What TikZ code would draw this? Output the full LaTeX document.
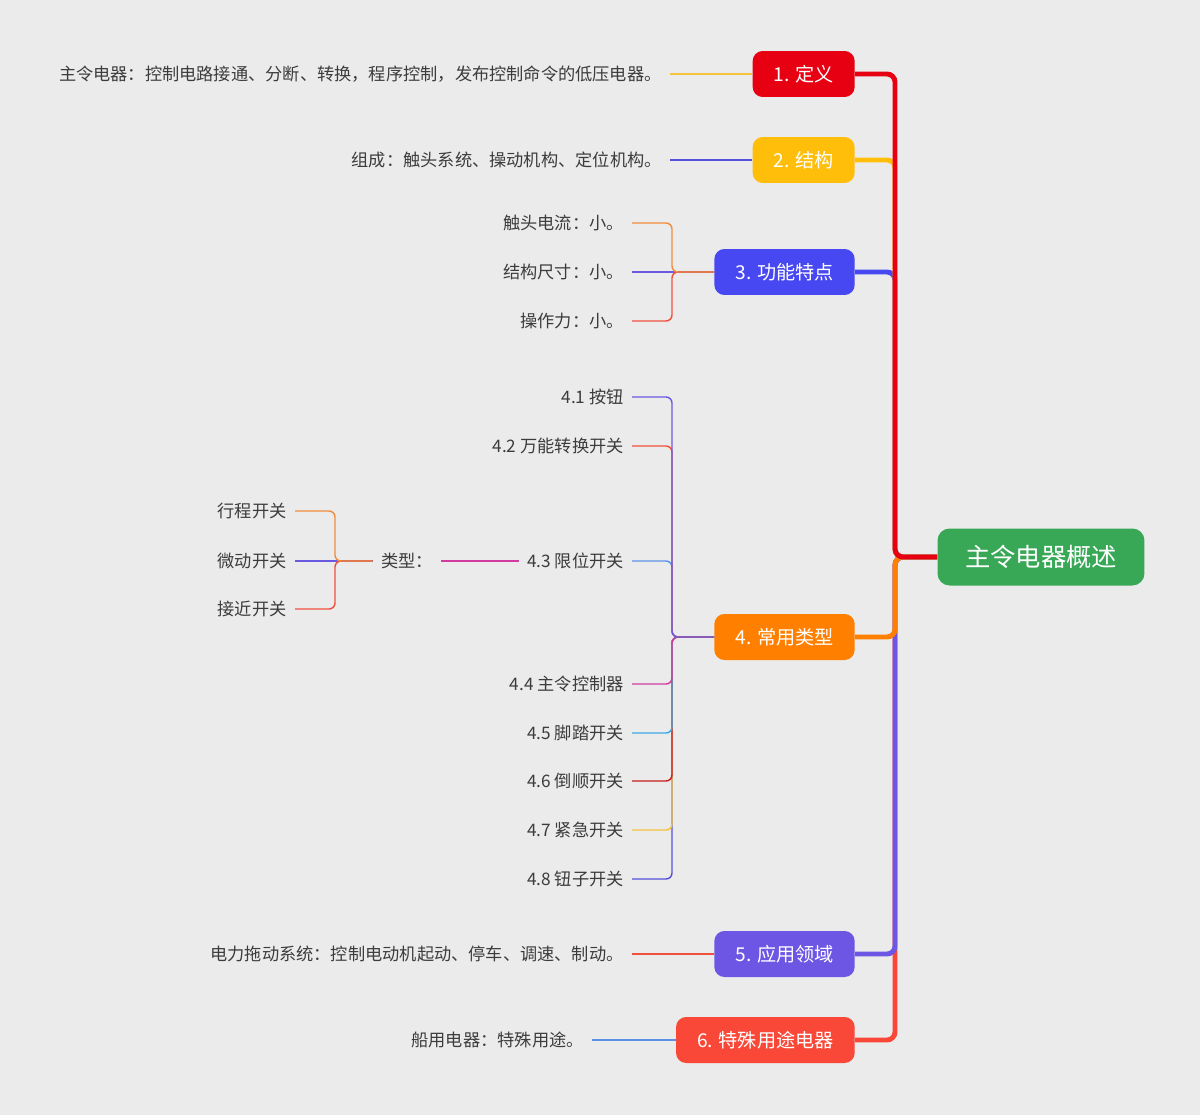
\documentclass[tikz,border=0pt]{standalone}
\usepackage{fontspec}
\setmainfont{Noto Sans CJK SC}
\usetikzlibrary{positioning}
\definecolor{bggray}{RGB}{235,235,235}
\definecolor{rootgreen}{RGB}{56,168,86}
\definecolor{defred}{RGB}{230,0,18}
\definecolor{structyellow}{RGB}{255,190,10}
\definecolor{featblue}{RGB}{72,72,242}
\definecolor{typeorange}{RGB}{255,128,0}
\definecolor{usepurple}{RGB}{110,86,228}
\definecolor{specred}{RGB}{250,72,56}
\definecolor{lnorange}{RGB}{240,140,60}
\definecolor{lnpurple}{RGB}{105,90,225}
\definecolor{lnred}{RGB}{240,80,60}
\definecolor{lnblue}{RGB}{90,145,230}
\definecolor{lnmagenta}{RGB}{210,60,160}
\definecolor{lnsky}{RGB}{60,170,230}
\definecolor{lndark}{RGB}{200,30,30}
\definecolor{lnyellow}{RGB}{245,195,60}
\definecolor{lnindigo}{RGB}{85,80,220}
\definecolor{txtgray}{RGB}{60,60,60}

\begin{document}
\begin{tikzpicture}[
    x=0.02cm, y=-0.02cm,
    rootbox/.style={rectangle,rounded corners=0.24cm,fill=rootgreen,text=white,
      minimum width=4.14cm,minimum height=1.14cm,font=\fontsize{14.4pt}{16pt}\selectfont},
    topic/.style={rectangle,rounded corners=0.2cm,text=white,anchor=east,
      minimum height=0.92cm,inner xsep=0.42cm,font=\fontsize{10.9pt}{12pt}\selectfont},
    leaf/.style={anchor=east,inner xsep=0.16cm,inner ysep=0pt,text=txtgray,
      font=\fontsize{9.8pt}{11pt}\selectfont},
    trunk/.style={line width=2.8pt,rounded corners=0.16cm},
    twig/.style={line width=0.8pt,rounded corners=0.12cm}
  ]
    \fill[bggray] (0,0) rectangle (1200,1115);

    % root and main topics
    \node[rootbox] (root) at (1041,557) {主令电器概述};
    \node[topic,fill=defred] (d1) at (855,74) {1. 定义};
    \node[topic,fill=structyellow] (d2) at (855,160) {2. 结构};
    \node[topic,fill=featblue] (d3) at (855,272) {3. 功能特点};
    \node[topic,fill=typeorange] (d4) at (855,637) {4. 常用类型};
    \node[topic,fill=usepurple] (d5) at (855,954) {5. 应用领域};
    \node[topic,fill=specred] (d6) at (855,1040) {6. 特殊用途电器};

    % leaves
    \node[leaf] (l1) at (670,74) {主令电器：控制电路接通、分断、转换，程序控制，发布控制命令的低压电器。};
    \node[leaf] (l2) at (670,160) {组成：触头系统、操动机构、定位机构。};
    \node[leaf] (l31) at (632,223) {触头电流：小。};
    \node[leaf] (l32) at (632,272) {结构尺寸：小。};
    \node[leaf] (l33) at (632,321) {操作力：小。};
    \node[leaf] (l41) at (632,397) {4.1 按钮};
    \node[leaf] (l42) at (632,446) {4.2 万能转换开关};
    \node[leaf] (l43) at (632,561) {4.3 限位开关};
    \node[leaf] (l44) at (632,684) {4.4 主令控制器};
    \node[leaf] (l45) at (632,733) {4.5 脚踏开关};
    \node[leaf] (l46) at (632,781) {4.6 倒顺开关};
    \node[leaf] (l47) at (632,830) {4.7 紧急开关};
    \node[leaf] (l48) at (632,879) {4.8 钮子开关};
    \node[leaf] (k43) at (441,561) {类型：};
    \node[leaf] (k431) at (295,511) {行程开关};
    \node[leaf] (k432) at (295,561) {微动开关};
    \node[leaf] (k433) at (295,609) {接近开关};
    \node[leaf] (l5) at (632,954) {电力拖动系统：控制电动机起动、停车、调速、制动。};
    \node[leaf] (l6) at (592,1040) {船用电器：特殊用途。};

    % main branches
    \coordinate (hub) at (895,557);
    \draw[trunk,specred] (root.west) -- (hub) |- (d6.east);
    \draw[trunk,usepurple] (root.west) -- (hub) |- (d5.east);
    \draw[trunk,typeorange] (root.west) -- (hub) |- (d4.east);
    \draw[trunk,featblue] (root.west) -- (hub) |- (d3.east);
    \draw[trunk,structyellow] (root.west) -- (hub) |- (d2.east);
    \draw[trunk,defred] (root.west) -- (hub) |- (d1.east);

    % sub branches
    \draw[twig,lnyellow] (d1.west) -- (l1.east);
    \draw[twig,lnindigo] (d2.west) -- (l2.east);

    \coordinate (b3) at (672,272);
    \draw[twig,lnpurple] (d3.west) -- (l32.east);
    \draw[twig,lnred] (d3.west) -- (b3) |- (l33.east);
    \draw[twig,lnorange] (d3.west) -- (b3) |- (l31.east);

    \coordinate (b4) at (672,637);
    \draw[twig,lnindigo] (d4.west) -- (b4) |- (l48.east);
    \draw[twig,lnyellow] (d4.west) -- (b4) |- (l47.east);
    \draw[twig,lndark] (d4.west) -- (b4) |- (l46.east);
    \draw[twig,lnsky] (d4.west) -- (b4) |- (l45.east);
    \draw[twig,lnmagenta] (d4.west) -- (b4) |- (l44.east);
    \draw[twig,lnblue] (d4.west) -- (b4) |- (l43.east);
    \draw[twig,lnred] (d4.west) -- (b4) |- (l42.east);
    \draw[twig,lnpurple] (d4.west) -- (b4) |- (l41.east);

    \draw[twig,lnmagenta] (l43.west) -- (k43.east);
    \coordinate (b43) at (335,561);
    \draw[twig,lnpurple] (k43.west) -- (k432.east);
    \draw[twig,lnred] (k43.west) -- (b43) |- (k433.east);
    \draw[twig,lnorange] (k43.west) -- (b43) |- (k431.east);

    \draw[twig,lnred] (d5.west) -- (l5.east);
    \draw[twig,lnblue] (d6.west) -- (l6.east);
  \end{tikzpicture}
\end{document}
